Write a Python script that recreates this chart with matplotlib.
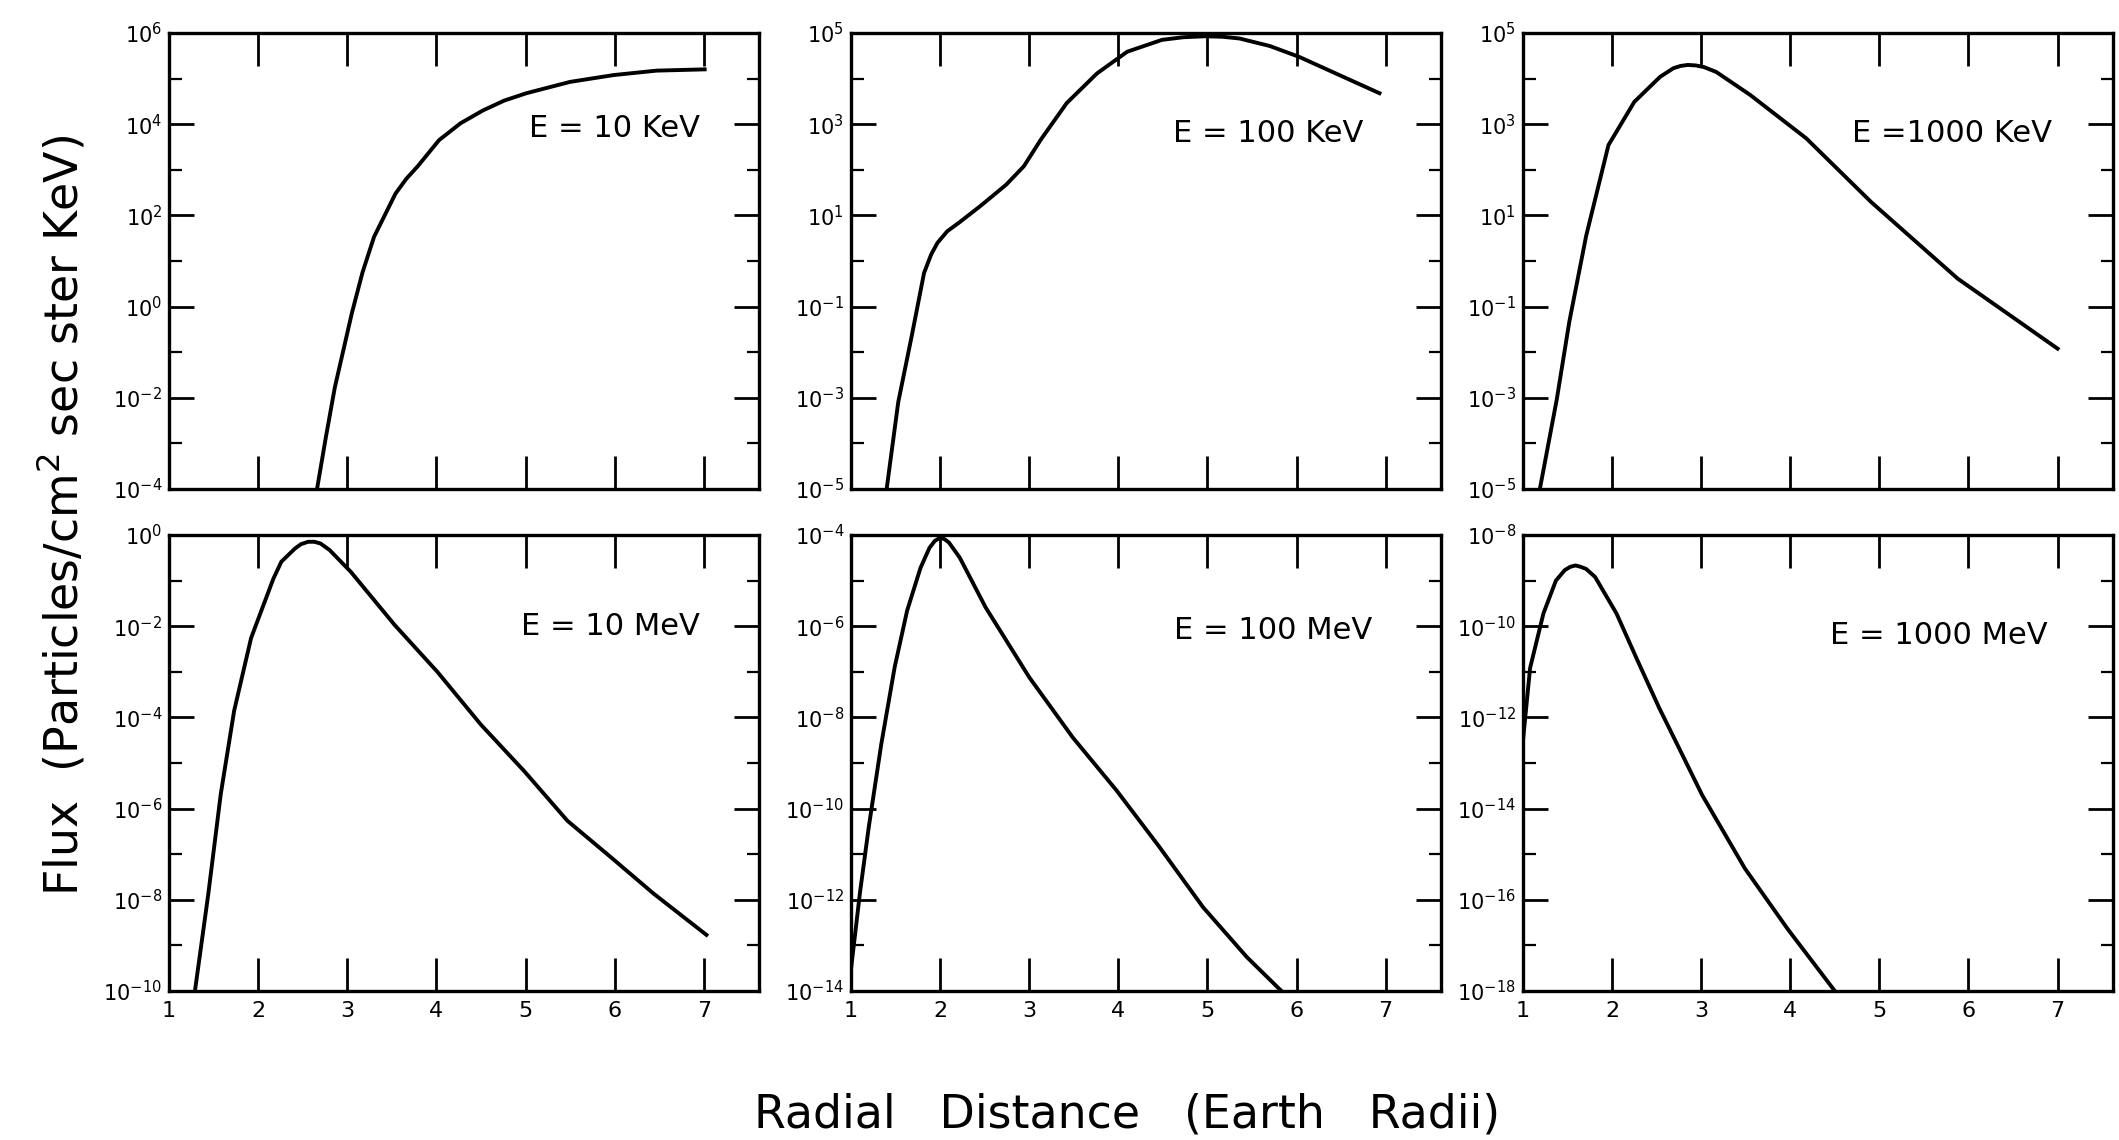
import matplotlib
matplotlib.use("Agg")
import matplotlib.pyplot as plt
from matplotlib.ticker import NullFormatter

# Radial distance (Earth radii) and flux
r_10kev = [2.66, 2.76, 2.86, 3.05, 3.17, 3.30, 3.54, 3.66, 3.79, 4.03, 4.27, 4.52, 4.76, 5.01, 5.50, 5.99, 6.47, 7.01]
f_10kev = [1e-4, 1.4e-3, 1.7e-2, 0.71, 5.6, 34, 300, 630, 1.2e3, 4.5e3, 1.05e4, 2.0e4, 3.3e4, 4.8e4, 8.5e4, 1.2e5,
           1.5e5, 1.6e5]

r_100kev = [1.40, 1.53, 1.68, 1.82, 1.90, 1.97, 2.08, 2.21, 2.45, 2.74, 2.94, 3.13, 3.42, 3.76, 4.10, 4.49, 4.73,
            4.97, 5.17, 5.36, 5.70, 6.03, 6.93]
f_100kev = [1e-5, 8e-4, 2.2e-2, 0.55, 1.4, 2.5, 4.5, 6.9, 16, 47, 120, 460, 2.9e3, 1.3e4, 3.9e4, 7.1e4, 8.1e4,
            8.5e4, 8.3e4, 7.6e4, 5.2e4, 3.0e4, 4.8e3]

r_1000kev = [1.19, 1.38, 1.52, 1.71, 1.96, 2.25, 2.54, 2.69, 2.77, 2.85, 2.94, 3.03, 3.17, 3.55, 4.18, 4.91, 5.88, 7.00]
f_1000kev = [1e-5, 9.3e-4, 4.6e-2, 3.6, 350, 3.1e3, 1.1e4, 1.7e4, 1.9e4, 2.0e4, 1.95e4, 1.8e4, 1.4e4, 4.4e3, 490,
             19.5, 0.41, 1.2e-2]

r_10mev = [1.29, 1.44, 1.58, 1.73, 1.92, 2.17, 2.26, 2.41, 2.48, 2.56, 2.63, 2.70, 2.80, 3.04, 3.53, 4.01, 4.50,
           4.98, 5.47, 5.96, 6.44, 7.03]
f_10mev = [1e-10, 1.35e-8, 2.1e-6, 1.4e-4, 5.5e-3, 0.11, 0.26, 0.50, 0.63, 0.71, 0.71, 0.65, 0.47, 0.155, 1.07e-2,
           1.0e-3, 6.9e-5, 6.8e-6, 5.4e-7, 8.5e-8, 1.35e-8, 1.7e-9]

r_100mev = [1.0, 1.10, 1.20, 1.34, 1.49, 1.63, 1.78, 1.88, 1.94, 2.00, 2.05, 2.10, 2.22, 2.51, 3.00, 3.49, 3.98,
            4.46, 4.95, 5.44, 5.83]
f_100mev = [3e-14, 1.4e-12, 4e-11, 2.6e-9, 1.26e-7, 2.2e-6, 1.9e-5, 5.2e-5, 7.4e-5, 8.7e-5, 8.1e-5, 6.8e-5, 3.2e-5,
            2.6e-6, 7.6e-8, 3.6e-9, 2.5e-10, 1.45e-11, 6.9e-13, 5.6e-14, 1e-14]

r_1000mev = [1.0, 1.08, 1.23, 1.37, 1.47, 1.53, 1.59, 1.65, 1.71, 1.81, 2.05, 2.29, 2.53, 2.77, 3.01, 3.49, 3.97, 4.50]
f_1000mev = [3e-13, 1.2e-11, 1.9e-10, 1e-9, 1.7e-9, 2.0e-9, 2.15e-9, 2.0e-9, 1.8e-9, 1.2e-9, 1.9e-10, 1.7e-11,
             1.6e-12, 1.8e-13, 2e-14, 4.9e-16, 2.3e-17, 1e-18]

labels = ["E = 10 KeV", "E = 100 KeV", "E =1000 KeV", "E = 10 MeV", "E = 100 MeV", "E = 1000 MeV"]
# decade exponents of the y range (bottom, top) per panel
y_exp = [(-4, 6), (-5, 5), (-5, 5), (-10, 0), (-14, -4), (-18, -8)]
x_ticks = [1, 2, 3, 4, 5, 6, 7]

radii = [r_10kev, r_100kev, r_1000kev, r_10mev, r_100mev, r_1000mev]
fluxes = [f_10kev, f_100kev, f_1000kev, f_10mev, f_100mev, f_1000mev]

fig = plt.figure(figsize=(21.19, 11.4), dpi=100)

col_left = [0.0798, 0.4016, 0.7187]
row_bottom = [0.571, 0.1307]
width, height = 0.2784, 0.400
label_pos = [(0.90, 0.79), (0.868, 0.78), (0.897, 0.78), (0.90, 0.80), (0.883, 0.79), (0.89, 0.78)]

for i in range(6):
    row, col = divmod(i, 3)
    ax = fig.add_axes([col_left[col], row_bottom[row], width, height])
    ax.plot(radii[i], fluxes[i], color="black", lw=2.8, solid_joinstyle="round")
    lo, hi = y_exp[i]
    ax.set_yscale("log")
    ax.set_ylim(10.0 ** lo, 10.0 ** hi)
    ax.set_xlim(1, 7.62)

    ax.set_yticks([10.0 ** e for e in range(lo, hi + 1, 2)])
    ax.set_yticklabels(["$10^{%d}$" % e for e in range(lo, hi + 1, 2)])
    ax.set_yticks([10.0 ** e for e in range(lo + 1, hi, 2)], minor=True)
    ax.yaxis.set_minor_formatter(NullFormatter())
    ax.set_xticks(x_ticks)
    ax.set_xticks([], minor=True)
    if row == 1:
        ax.set_xticklabels([str(t) for t in x_ticks])
    else:
        ax.set_xticklabels([])

    ax.tick_params(axis="x", which="major", direction="in", top=True, bottom=True,
                   length=24, width=2, labelsize=16, pad=7)
    ax.tick_params(axis="y", which="major", direction="in", left=True, right=True,
                   length=18, width=2, labelsize=15, pad=5)
    ax.tick_params(axis="y", which="minor", direction="in", left=True, right=True,
                   length=9, width=1.6)
    for s in ax.spines.values():
        s.set_linewidth(2.4)

    ax.text(label_pos[i][0], label_pos[i][1], labels[i], transform=ax.transAxes,
            ha="right", va="center", fontsize=22)

fig.text(0.029, 0.548, "Flux  (Particles/cm$^{2}$ sec ster KeV)", rotation=90,
         ha="center", va="center", fontsize=33)
fig.text(0.532, 0.022, "Radial   Distance   (Earth   Radii)", ha="center", va="center",
         fontsize=33)

fig.savefig("out.png", dpi=100)
